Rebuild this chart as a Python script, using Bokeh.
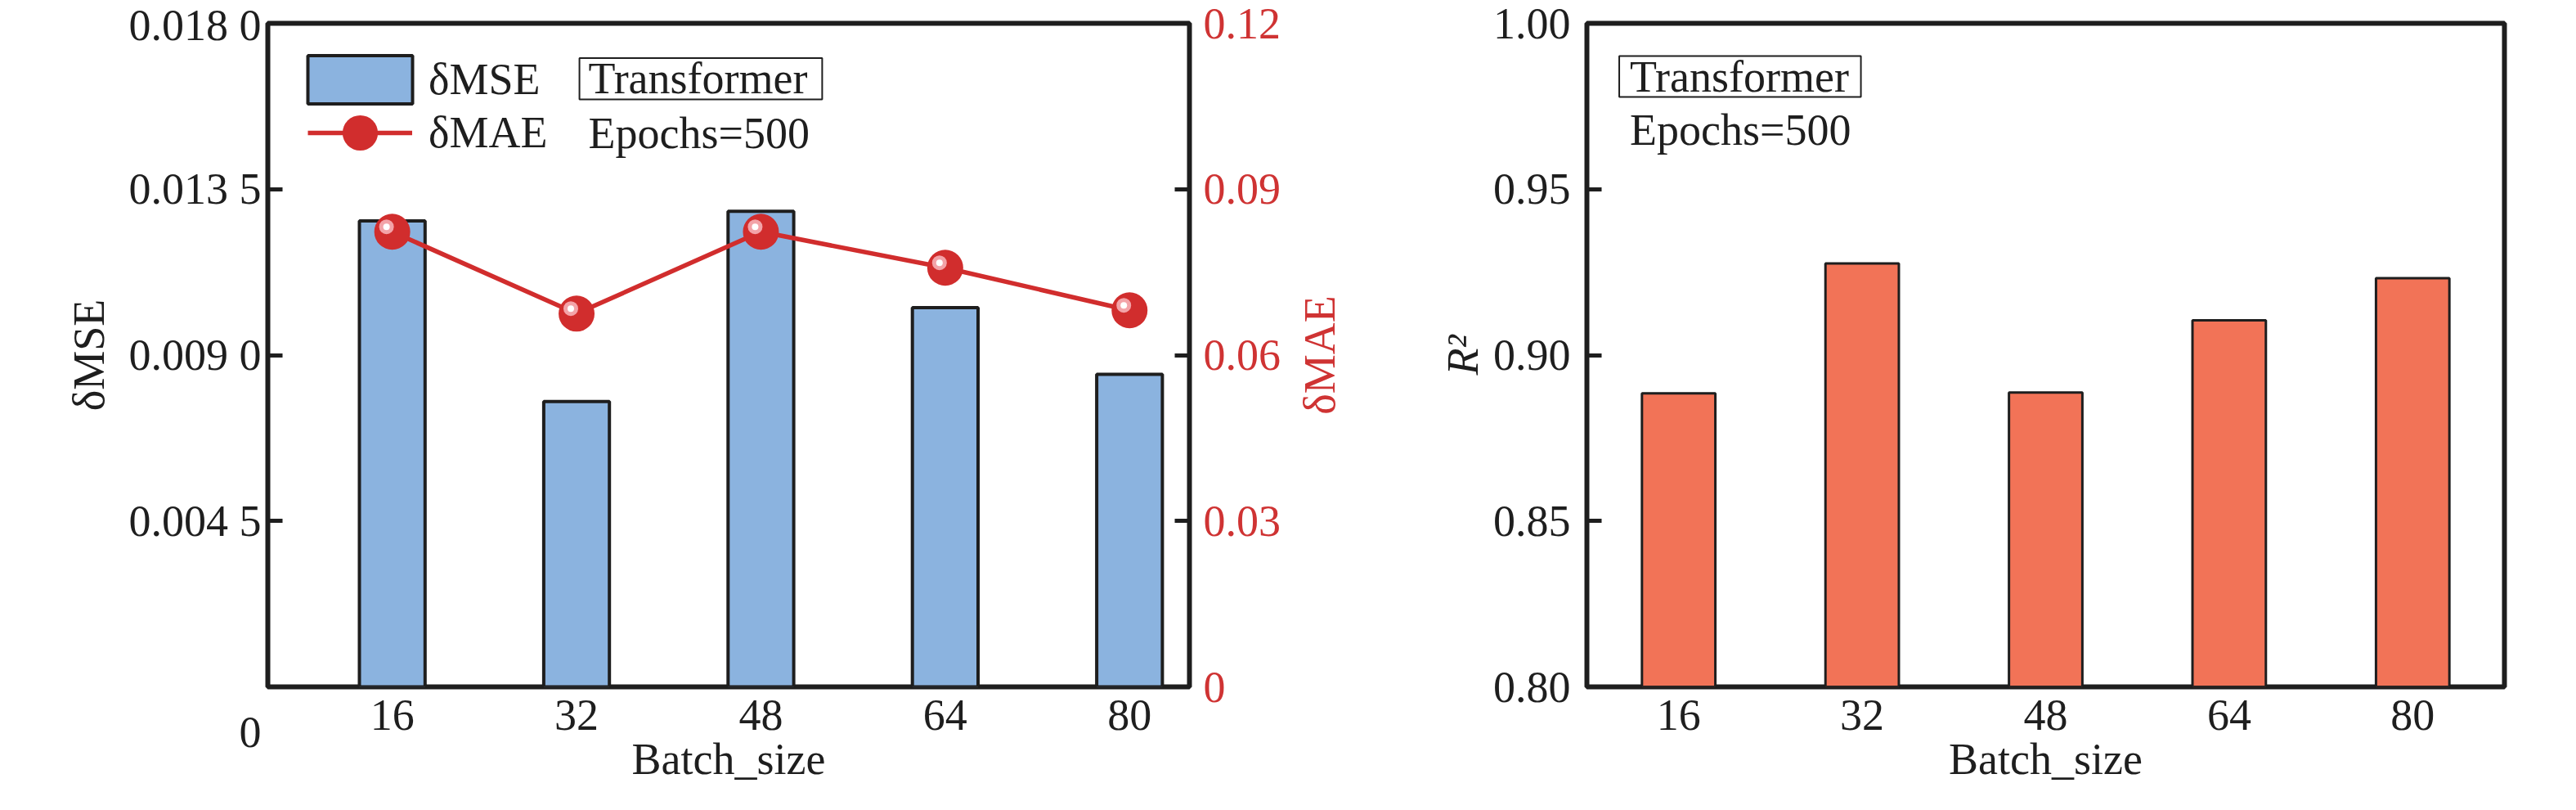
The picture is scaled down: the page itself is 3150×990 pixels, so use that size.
from bokeh.plotting import figure
from bokeh.models import (Range1d, LinearAxis, FixedTicker, Legend, LegendItem,
                          Label, BoxAnnotation)
from bokeh.layouts import row
from bokeh.embed import file_html
from bokeh.resources import INLINE

# ---------------- data ----------------
batch_sizes = [16, 32, 48, 64, 80]
d_mse = [0.01264, 0.00774, 0.01290, 0.01029, 0.00848]
d_mae = [0.0823, 0.0675, 0.0823, 0.0758, 0.0681]
r2 = [0.8885, 0.9276, 0.8887, 0.9105, 0.9232]

mse_ticks = [0, 0.0045, 0.009, 0.0135, 0.018]
mse_tick_labels = ["\n0", "0.004 5", "0.009 0", "0.013 5", "0.018 0"]
mae_ticks = [0, 0.03, 0.06, 0.09, 0.12]
mae_tick_labels = ["0", "0.03", "0.06", "0.09", "0.12"]
r2_ticks = [0.8, 0.85, 0.9, 0.95, 1.0]
r2_tick_labels = ["0.80", "0.85", "0.90", "0.95", "1.00"]

model_name = "Transformer"
epochs_text = "Epochs=500"

# ---------------- style ----------------
FONT = "'Liberation Serif', 'Times New Roman', serif"
FS = "54px"
INK = "#1E1E1E"
RED = "#D12D2D"
RED_TXT = "#CF3333"
BLUE = "#8BB3DF"
CORAL = "#F27357"


def style_axis(ax, color=INK, tick_in=18):
    ax.axis_line_color = None
    ax.major_tick_line_color = INK
    ax.major_tick_line_width = 5
    ax.major_tick_in = tick_in
    ax.major_tick_out = 0
    ax.minor_tick_line_color = None
    ax.major_label_text_font = FONT
    ax.major_label_text_font_size = FS
    ax.major_label_text_color = color
    ax.axis_label_text_font = FONT
    ax.axis_label_text_font_size = FS
    ax.axis_label_text_font_style = "normal"
    ax.axis_label_text_color = color


def base_fig(width, xr, yr, left, right):
    p = figure(width=width, height=974, x_range=xr, y_range=yr,
               output_backend="svg", toolbar_location=None,
               min_border_left=left, min_border_right=right,
               min_border_top=28, min_border_bottom=135)
    p.grid.visible = False
    p.outline_line_color = INK
    p.outline_line_width = 6
    p.background_fill_color = "white"
    p.border_fill_color = "white"
    return p


def text_label(x, y, txt):
    return Label(x=x, y=y, text=txt, text_font=FONT, text_font_size=FS,
                 text_color=INK, text_baseline="middle", text_align="left")


def style_x(ax):
    style_axis(ax, tick_in=0)
    ax.ticker = FixedTicker(ticks=batch_sizes)
    ax.axis_label = "Batch_size"
    ax.major_label_standoff = 16
    ax.axis_label_standoff = 3


# ---------------- left panel ----------------
p1 = base_fig(1580, Range1d(5.2, 85.2), Range1d(0, 0.018), 327, 126)
p1.extra_y_ranges = {"mae": Range1d(0, 0.12), "hy": Range1d(-0.0009, 0.12 - 0.0009)}
p1.extra_x_ranges = {"hx": Range1d(5.7, 85.7)}

style_x(p1.xaxis[0])

ya = p1.yaxis[0]
style_axis(ya)
ya.ticker = FixedTicker(ticks=mse_ticks)
ya.major_label_overrides = dict(zip(mse_ticks, mse_tick_labels))
ya.major_label_text_line_height = 1.85
ya.axis_label = "δMSE"
ya.major_label_standoff = 8
ya.axis_label_standoff = 16

ra = LinearAxis(y_range_name="mae", ticker=FixedTicker(ticks=mae_ticks))
style_axis(ra, color=RED_TXT)
ra.major_label_overrides = dict(zip(mae_ticks, mae_tick_labels))
ra.major_label_standoff = 17
p1.add_layout(ra, "right")

bars1 = p1.vbar(x=batch_sizes, top=d_mse, bottom=0, width=5.7,
                fill_color=BLUE, line_color=INK, line_width=4)
line1 = p1.line(batch_sizes, d_mae, y_range_name="mae", line_color=RED, line_width=5.5)
dots1 = p1.scatter(batch_sizes, d_mae, y_range_name="mae", size=44,
                   fill_color=RED, line_color=None)
p1.scatter(batch_sizes, d_mae, x_range_name="hx", y_range_name="hy", size=18,
           fill_color="#F3A3A8", line_color=None)
p1.scatter(batch_sizes, d_mae, x_range_name="hx", y_range_name="hy", size=8,
           fill_color="white", line_color=None)

leg_a = Legend(items=[LegendItem(label="δMSE", renderers=[bars1])],
               location=(33, 705), glyph_width=160, glyph_height=74,
               padding=0, margin=0, spacing=0, label_standoff=4,
               border_line_color=None, background_fill_alpha=0,
               label_text_font=FONT, label_text_font_size=FS, label_text_color=INK)
leg_b = Legend(items=[LegendItem(label="δMAE", renderers=[line1, dots1])],
               location=(49, 623), glyph_width=128, glyph_height=108,
               padding=0, margin=0, spacing=0, label_standoff=20,
               border_line_color=None, background_fill_alpha=0,
               label_text_font=FONT, label_text_font_size=FS, label_text_color=INK)
p1.add_layout(leg_a)
p1.add_layout(leg_b)

p1.add_layout(BoxAnnotation(left=32.25, right=53.32, bottom=0.015936, top=0.017057,
                            fill_alpha=0, line_color=INK, line_alpha=1, line_width=2))
p1.add_layout(text_label(33.03, 0.016502, model_name))
p1.add_layout(text_label(33.03, 0.015015, epochs_text))

# ---------------- right panel ----------------
p2 = base_fig(1540, Range1d(8, 88), Range1d(0.8, 1.0), 353, 58)

style_x(p2.xaxis[0])

yb = p2.yaxis[0]
style_axis(yb)
yb.ticker = FixedTicker(ticks=r2_ticks)
yb.major_label_overrides = dict(zip(r2_ticks, r2_tick_labels))
yb.axis_label = "R²"
yb.axis_label_text_font_style = "italic"
yb.major_label_standoff = 20
yb.axis_label_standoff = 4

# title of the left panel's secondary (red) axis, read bottom-to-top
mae_title_axis = LinearAxis(ticker=FixedTicker(ticks=[]), axis_label="δMAE")
style_axis(mae_title_axis, color=RED_TXT, tick_in=0)
mae_title_axis.major_tick_line_color = None
mae_title_axis.major_label_standoff = 0
mae_title_axis.axis_label_standoff = 112
p2.add_layout(mae_title_axis, "left")

p2.vbar(x=batch_sizes, top=r2, bottom=0.8, width=6.4,
        fill_color=CORAL, line_color=INK, line_width=3)

p2.add_layout(BoxAnnotation(left=10.82, right=31.89, bottom=0.97781, top=0.99014,
                            fill_alpha=0, line_color=INK, line_alpha=1, line_width=2))
p2.add_layout(text_label(11.74, 0.98397, model_name))
p2.add_layout(text_label(11.74, 0.96794, epochs_text))

layout = row(p1, p2)
open("out.html", "w").write(file_html(layout, INLINE))
